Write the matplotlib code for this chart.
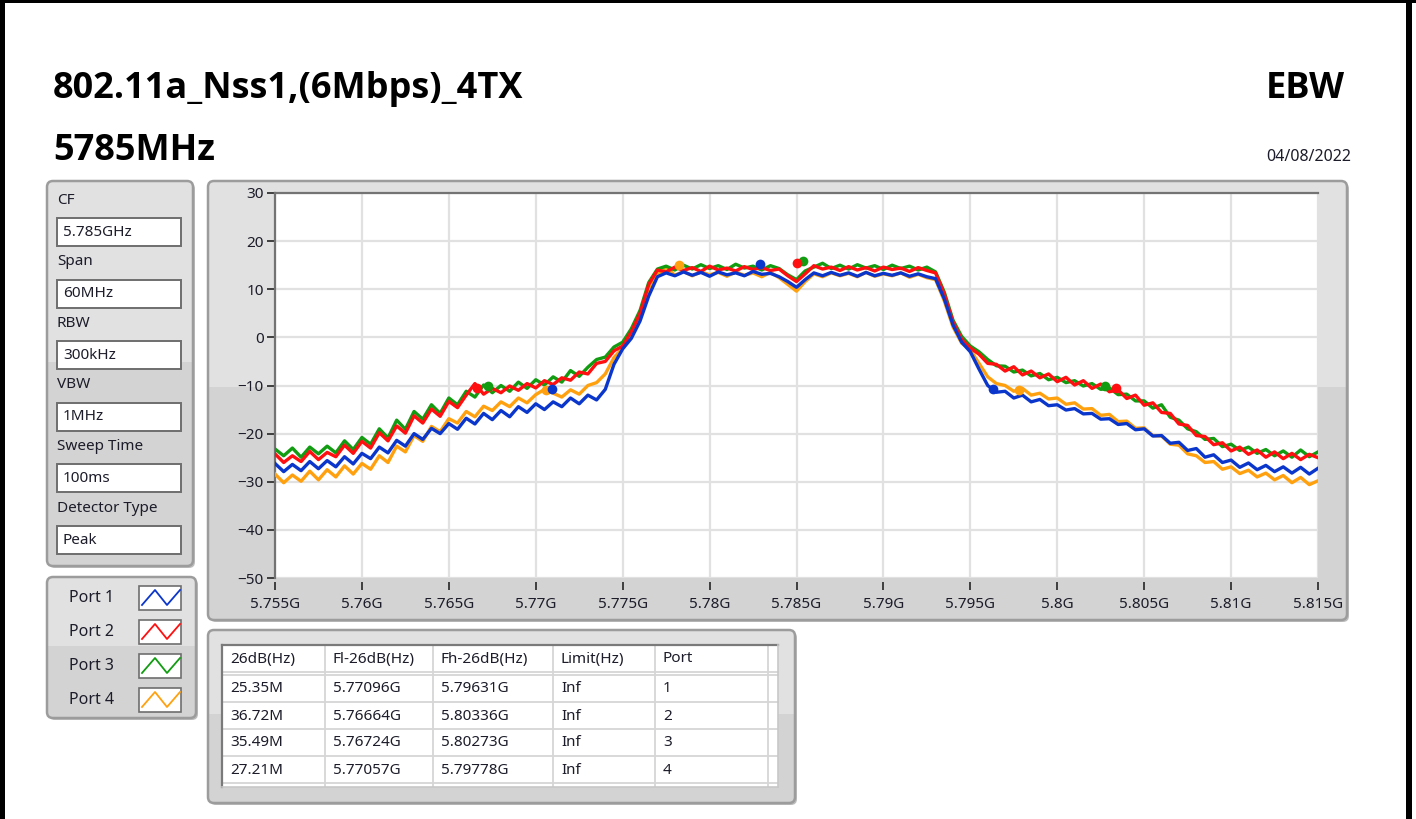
import numpy as np
import matplotlib
matplotlib.use("Agg")
import matplotlib.pyplot as plt
from matplotlib.patches import FancyBboxPatch, Rectangle
from matplotlib.lines import Line2D

plt.rcParams['font.family'] = ['Noto Sans', 'DejaVu Sans']

# ---- data ----
# sweep: 5.755G .. 5.815G, one point every 0.5 MHz (121 points)
freq_ghz = np.linspace(5.755, 5.815, 121)

port1 = [-26.2, -27.9, -26.4, -27.7, -25.8, -27.3, -25.6, -26.9, -24.8, -26.3,
         -24.1, -25.2, -22.8, -24.0, -21.4, -22.6, -20.0, -21.2, -18.9, -20.0,
         -17.9, -19.1, -16.8, -18.0, -15.8, -17.1, -15.2, -16.5, -14.4, -15.6,
         -13.8, -15.0, -13.4, -14.4, -12.6, -13.8, -12.0, -13.0, -10.8, -5.6,
         -2.4, -0.2, 3.4, 8.6, 12.6, 13.4, 12.8, 13.6, 12.9, 13.5,
         12.7, 13.6, 13.0, 13.4, 12.8, 13.7, 13.1, 13.3, 12.6, 11.6,
         10.4, 12.0, 13.4, 12.8, 13.5, 12.9, 13.4, 12.7, 13.5, 12.8,
         13.3, 12.9, 13.4, 12.7, 13.2, 12.6, 12.2, 8.0, 2.6, -1.0,
         -3.0, -6.6, -10.0, -11.4, -11.2, -12.6, -12.0, -13.4, -12.9, -14.2,
         -14.0, -15.1, -14.8, -15.9, -15.8, -17.0, -16.9, -18.1, -17.9, -19.2,
         -19.0, -20.5, -20.4, -22.0, -21.8, -23.5, -23.1, -24.9, -24.4, -26.0,
         -25.5, -27.0, -26.1, -27.5, -26.6, -27.9, -26.9, -28.2, -27.0, -28.4,
         -27.2]

port2 = [-24.2, -26.0, -24.6, -25.8, -23.7, -25.4, -23.9, -24.8, -22.4, -24.1,
         -21.6, -23.0, -19.8, -21.5, -18.4, -19.9, -16.3, -17.8, -14.9, -16.4,
         -13.3, -14.6, -12.0, -9.6, -11.8, -10.6, -11.5, -10.1, -11.0, -9.6,
         -10.5, -9.0, -9.8, -8.4, -8.9, -7.2, -7.6, -5.4, -5.0, -2.8,
         -1.8, 1.2, 5.0, 11.0, 14.0, 13.6, 14.6, 13.9, 14.5, 13.7,
         14.8, 14.0, 14.4, 13.8, 14.7, 14.1, 14.5, 13.9, 14.2, 12.8,
         11.6, 13.2, 14.9, 14.2, 14.6, 13.9, 14.7, 14.0, 14.5, 13.8,
         14.6, 14.1, 14.4, 13.7, 14.5, 13.9, 13.4, 9.0, 3.2, -0.4,
         -2.2, -3.5, -5.4, -5.6, -7.0, -6.1, -7.8, -7.0, -8.4, -7.6,
         -9.2, -8.3, -9.9, -9.0, -10.6, -9.7, -11.3, -10.9, -12.7, -12.0,
         -14.1, -13.6, -15.6, -15.8, -18.0, -18.3, -20.4, -20.6, -22.3, -21.9,
         -23.6, -22.8, -24.3, -23.4, -24.9, -23.8, -25.2, -24.1, -25.4, -24.3,
         -25.0]

port3 = [-23.2, -24.6, -23.0, -24.9, -22.8, -24.2, -22.6, -24.0, -21.5, -23.3,
         -20.8, -22.2, -19.0, -20.9, -17.2, -19.1, -15.4, -17.0, -14.0, -15.8,
         -12.6, -14.0, -11.2, -12.4, -9.9, -11.5, -10.0, -11.2, -9.3, -10.6,
         -8.8, -9.9, -8.2, -9.3, -6.9, -8.1, -6.2, -4.6, -4.1, -2.0,
         -1.0, 1.8, 5.6, 11.4, 14.2, 14.8, 14.0, 15.0, 14.2, 15.1,
         14.3, 14.9, 14.1, 15.2, 14.4, 14.8, 14.0, 14.9, 14.3, 13.0,
         12.0, 13.8, 14.6, 15.4, 14.3, 15.0, 14.2, 15.1, 14.4, 14.9,
         14.1, 15.0, 14.3, 14.8, 14.0, 14.6, 13.6, 9.4, 3.6, 0.2,
         -1.8, -3.0, -4.6, -5.9, -6.0, -7.2, -6.8, -8.0, -7.5, -8.8,
         -8.3, -9.4, -9.0, -10.1, -9.6, -10.8, -10.5, -11.9, -11.8, -13.2,
         -13.2, -14.7, -14.0, -16.6, -17.2, -19.0, -19.6, -21.2, -21.0, -22.7,
         -22.2, -23.5, -22.8, -24.1, -23.3, -24.6, -23.6, -24.9, -23.4, -24.8,
         -23.8]

port4 = [-28.4, -30.2, -28.6, -29.9, -27.8, -29.6, -27.5, -29.0, -26.7, -28.4,
         -26.2, -27.4, -24.6, -26.0, -22.6, -23.8, -20.4, -21.6, -18.5, -19.6,
         -16.9, -17.8, -15.4, -16.5, -14.3, -15.2, -13.4, -14.4, -12.6, -13.6,
         -11.9, -10.8, -11.6, -12.4, -10.9, -11.8, -10.0, -9.4, -7.6, -4.2,
         -2.2, 0.4, 4.2, 9.8, 13.0, 14.6, 12.9, 13.7, 12.8, 13.6,
         13.0, 13.5, 12.7, 13.6, 12.9, 13.4, 12.6, 13.5, 12.4, 11.0,
         9.6, 11.6, 13.2, 12.6, 13.4, 12.8, 13.3, 12.6, 13.5, 12.7,
         13.2, 12.8, 13.4, 12.5, 13.1, 12.4, 12.0, 7.6, 2.2, -1.2,
         -2.6, -5.4, -8.2, -9.6, -10.0, -11.2, -10.6, -12.0, -11.6, -12.8,
         -12.6, -13.9, -13.6, -14.9, -14.8, -16.2, -16.0, -17.5, -17.4, -18.9,
         -18.8, -20.4, -20.5, -22.2, -22.4, -24.2, -24.6, -26.0, -25.8, -27.4,
         -26.9, -28.3, -27.6, -29.0, -28.2, -29.6, -28.7, -30.2, -29.1, -30.6,
         -29.8]

port_names = ["Port 1", "Port 2", "Port 3", "Port 4"]
port_colors = ["#0b36cc", "#ff0f0f", "#119c11", "#ffa10f"]

# markers: peak, Fl-26dB, Fh-26dB for each port
mk_freq = [[5.78290, 5.77096, 5.79631],
           [5.78500, 5.76664, 5.80336],
           [5.78538, 5.76724, 5.80273],
           [5.77825, 5.77057, 5.79778]]
mk_level = [[15.2, -10.8, -10.8],
            [15.5, -10.5, -10.5],
            [15.9, -10.1, -10.1],
            [15.0, -11.0, -11.0]]

xtick_vals = [5.755, 5.76, 5.765, 5.77, 5.775, 5.78, 5.785, 5.79, 5.795, 5.8, 5.805, 5.81, 5.815]
xtick_labels = ["5.755G", "5.76G", "5.765G", "5.77G", "5.775G", "5.78G", "5.785G",
                "5.79G", "5.795G", "5.8G", "5.805G", "5.81G", "5.815G"]
ytick_vals = [-50, -40, -30, -20, -10, 0, 10, 20, 30]

setting_names = ["CF", "Span", "RBW", "VBW", "Sweep Time", "Detector Type"]
setting_values = ["5.785GHz", "60MHz", "300kHz", "1MHz", "100ms", "Peak"]

tbl_header = ["26dB(Hz)", "Fl-26dB(Hz)", "Fh-26dB(Hz)", "Limit(Hz)", "Port"]
tbl_bw = ["25.35M", "36.72M", "35.49M", "27.21M"]
tbl_fl = ["5.77096G", "5.76664G", "5.76724G", "5.77057G"]
tbl_fh = ["5.79631G", "5.80336G", "5.80273G", "5.79778G"]
tbl_limit = ["Inf", "Inf", "Inf", "Inf"]
tbl_port = ["1", "2", "3", "4"]

TXT = "#1c1c2a"
BOLD = ['Open Sans', 'Roboto', 'DejaVu Sans']

fig = plt.figure(figsize=(14.16, 8.19), dpi=100)
fig.patch.set_facecolor("white")

# background layer in pixel coordinates
bg = fig.add_axes([0, 0, 1, 1])
bg.set_xlim(0, 1416)
bg.set_ylim(819, 0)
bg.axis("off")

# page border
bg.add_patch(Rectangle((0, 0), 5, 819, fc="black", ec="none"))
bg.add_patch(Rectangle((0, 0), 1416, 3, fc="black", ec="none"))
bg.add_patch(Rectangle((1406, 0), 6, 819, fc="black", ec="none"))


def panel(x0, y0, x1, y1, split):
    w, h = x1 - x0, y1 - y0
    style = "round,pad=0,rounding_size=6"
    bg.add_patch(FancyBboxPatch((x0 + 2, y0 + 2), w, h, boxstyle=style, fc="#bdbdbd", ec="none"))
    body = FancyBboxPatch((x0, y0), w, h, boxstyle=style, fc="#e1e1e1", ec="none")
    bg.add_patch(body)
    low = Rectangle((x0, y0 + h * split), w, h * (1 - split), fc="#d3d3d3", ec="none")
    bg.add_patch(low)
    low.set_clip_path(body)
    bg.add_patch(FancyBboxPatch((x0, y0), w, h, boxstyle=style, fc="none", ec="#9c9c9c", lw=1.8))


panel(47, 181, 193, 566, 0.47)
panel(47, 577, 196, 718, 0.49)
panel(208, 181, 1347, 620, 0.47)
panel(208, 630, 795, 803, 0.485)

# titles
bg.text(53, 89, "802.11a_Nss1,(6Mbps)_4TX", fontsize=26, fontweight="bold", family=BOLD,
        va="center", ha="left", color="black")
bg.text(53, 151, "5785MHz", fontsize=26, fontweight="bold", family=BOLD,
        va="center", ha="left", color="black")
bg.text(1345, 89, "EBW", fontsize=26, fontweight="bold", family=BOLD,
        va="center", ha="right", color="black")
bg.text(1351, 157, "04/08/2022", fontsize=11.5, va="center", ha="right", color=TXT)

# settings panel
for i, (name, val) in enumerate(zip(setting_names, setting_values)):
    yc = 200 + i * 61.6
    bg.text(57, yc, name, fontsize=11, va="center", ha="left", color=TXT)
    top = yc + 18
    bg.add_patch(Rectangle((57, top), 124, 28, fc="white", ec="#6e6e6e", lw=1.4))
    bg.text(63, top + 14, val, fontsize=11, va="center", ha="left", color=TXT)

# legend panel
for i, (name, col) in enumerate(zip(port_names, port_colors)):
    yc = 598 + i * 34
    bg.text(69, yc, name, fontsize=11.5, va="center", ha="left", color=TXT)
    bg.add_patch(Rectangle((139, yc - 12), 42, 24, fc="white", ec="#6e6e6e", lw=1.2))
    bg.add_line(Line2D([142, 155, 167, 180], [yc + 7, yc - 8, yc + 7, yc - 8], color=col, lw=1.3))

# table
tx0, tx1, ty0, ty1 = 222, 778, 645, 787
bg.add_patch(Rectangle((tx0, ty0), tx1 - tx0, ty1 - ty0, fc="white", ec="none"))
col_edges = [222, 325, 433, 553, 655, 768]
row_edges = [675, 702, 729, 756, 783]
for cx in col_edges[1:]:
    bg.add_line(Line2D([cx, cx], [ty0, ty1], color="#d6d6d6", lw=1.3))
for ry in row_edges:
    bg.add_line(Line2D([tx0, tx1], [ry, ry], color="#d6d6d6", lw=1.3))
bg.add_line(Line2D([tx0, tx1], [672, 672], color="#d6d6d6", lw=1.3))
bg.add_line(Line2D([tx0, tx1], [ty0, ty0], color="#7a7a7a", lw=1.6))
bg.add_line(Line2D([tx0, tx0], [ty0, ty1], color="#7a7a7a", lw=1.6))
bg.add_line(Line2D([tx1, tx1], [ty0, ty1], color="#c8c8c8", lw=1.2))
bg.add_line(Line2D([tx0, tx1], [ty1, ty1], color="#c8c8c8", lw=1.2))

for j, h in enumerate(tbl_header):
    bg.text(col_edges[j] + 8, 659, h, fontsize=11, va="center", ha="left", color=TXT)
rows = list(zip(tbl_bw, tbl_fl, tbl_fh, tbl_limit, tbl_port))
for i, row in enumerate(rows):
    yc = 689 + i * 27
    for j, cell in enumerate(row):
        bg.text(col_edges[j] + 8, yc, cell, fontsize=11, va="center", ha="left", color=TXT)

# spectrum plot
ax = fig.add_axes([275 / 1416, 1 - 578 / 819, 1043 / 1416, 385 / 819])
ax.set_facecolor("white")
traces = [port1, port2, port3, port4]
for k in [3, 2, 1, 0]:
    ax.plot(freq_ghz, traces[k], color=port_colors[k], lw=2.4, zorder=3)
for k in [3, 2, 1, 0]:
    ax.plot(mk_freq[k], mk_level[k], "o", color=port_colors[k], ms=7, mec="none", zorder=4)

ax.set_xlim(5.755, 5.815)
ax.set_ylim(-50, 30)
ax.set_xticks(xtick_vals)
ax.set_xticklabels(xtick_labels)
ax.set_yticks(ytick_vals)
ax.grid(True, color="#e1e1e1", lw=1.6, zorder=0)
ax.set_axisbelow(True)

for s in ["right", "bottom"]:
    ax.spines[s].set_visible(False)
for s in ["left", "top"]:
    ax.spines[s].set_color("#737373")
    ax.spines[s].set_linewidth(1.6)
ax.spines["bottom"].set_position(("outward", 3))
ax.tick_params(axis="x", length=6, width=1.3, color="#333333", pad=5, labelsize=11, labelcolor=TXT)
ax.tick_params(axis="y", length=6, width=1.3, color="#333333", pad=2, labelsize=11, labelcolor=TXT)

fig.savefig("out.png", dpi=100)
